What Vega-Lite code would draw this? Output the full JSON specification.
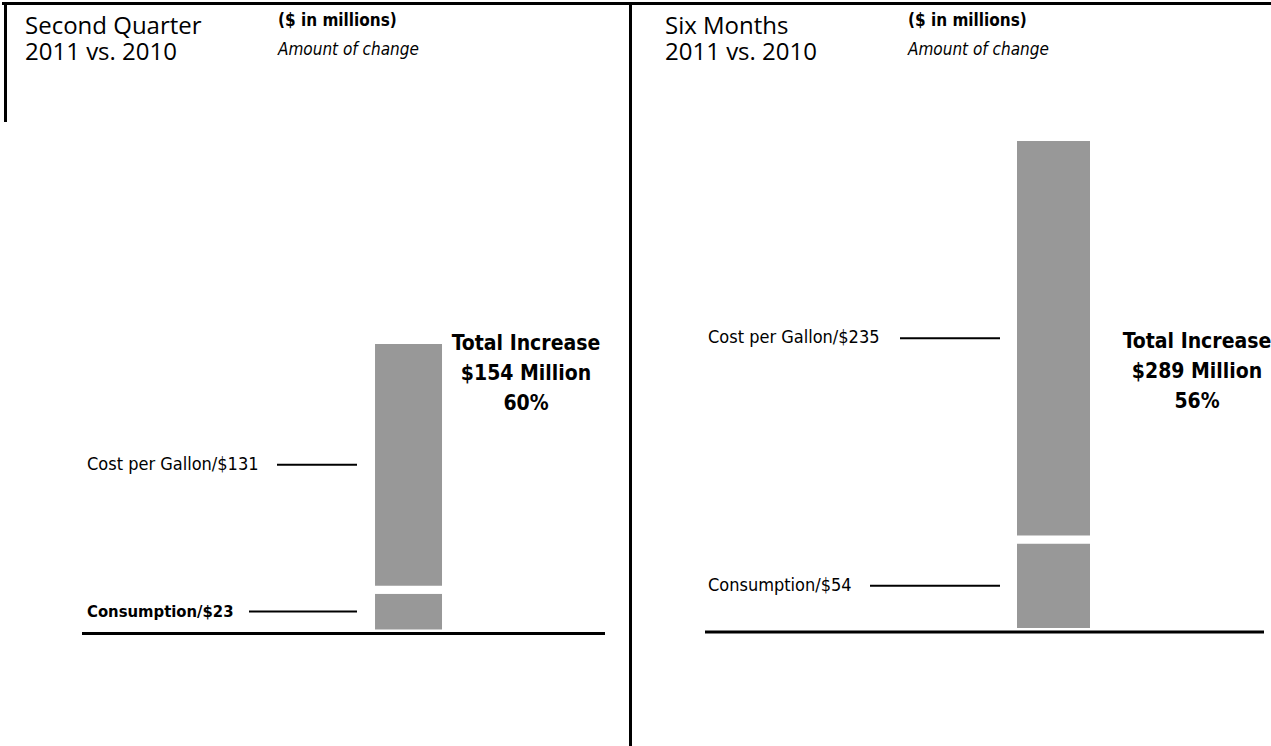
{
  "$schema": "https://vega.github.io/schema/vega-lite/v6.json",
  "padding": 0,
  "spacing": 0,
  "bounds": "flush",
  "background": "white",
  "config": {"view": {"stroke": null}},
  "datasets": {
    "bars": [
      {"period": "Second Quarter", "component": "Consumption", "value": 23, "label": "Consumption/$23"},
      {"period": "Second Quarter", "component": "Cost per Gallon", "value": 131, "label": "Cost per Gallon/$131"},
      {"period": "Six Months", "component": "Consumption", "value": 54, "label": "Consumption/$54"},
      {"period": "Six Months", "component": "Cost per Gallon", "value": 235, "label": "Cost per Gallon/$235"}
    ],
    "headers": [
      {"period": "Second Quarter", "title1": "Second Quarter", "title2": "2011 vs. 2010", "unit": "($ in millions)", "note": "Amount of change", "total": "Total Increase\n$154 Million\n60%"},
      {"period": "Six Months", "title1": "Six Months", "title2": "2011 vs. 2010", "unit": "($ in millions)", "note": "Amount of change", "total": "Total Increase\n$289 Million\n56%"}
    ],
    "one": [{"k": 1}]
  },
  "hconcat": [
    {
      "width": 628,
      "height": 746,
      "layer": [
        {
          "data": {"name": "bars"},
          "transform": [{"filter": "datum.period === 'Second Quarter'"}],
          "mark": {"type": "bar", "color": "#989898", "stroke": "white", "strokeWidth": 8},
          "encoding": {
            "x": {"field": "period", "type": "nominal", "axis": null, "scale": {"paddingInner": 0.7288, "paddingOuter": 1, "align": 0.6673}},
            "y": {"field": "value", "type": "quantitative", "stack": "zero", "axis": null, "scale": {"domain": [-60.08, 331.35], "nice": false, "zero": false}},
            "detail": {"field": "component", "type": "nominal"},
            "order": {"field": "component", "sort": "ascending"}
          }
        },
        {
          "data": {"name": "bars"},
          "transform": [
            {"filter": "datum.period === 'Second Quarter'"},
            {"stack": "value", "groupby": ["period"], "sort": [{"field": "component", "order": "ascending"}], "as": ["v0", "v1"]},
            {"fold": ["v0", "v1"], "as": ["edge", "pos"]},
            {"aggregate": [{"op": "mean", "field": "pos", "as": "mid"}], "groupby": ["period", "component", "label"]}
          ],
          "layer": [
            {
              "transform": [{"filter": "datum.component === 'Cost per Gallon'"}],
              "layer": [
                {
                  "mark": {"type": "text", "align": "left", "baseline": "middle", "font": "DejaVu Sans Condensed", "fontSize": 18, "color": "black"},
                  "encoding": {
                    "x": {"value": 85},
                    "y": {"field": "mid", "type": "quantitative", "axis": null},
                    "text": {"field": "label"}
                  }
                },
                {
                  "mark": {"type": "rule", "color": "black", "strokeWidth": 2},
                  "encoding": {
                    "x": {"value": 275},
                    "x2": {"value": 355},
                    "y": {"field": "mid", "type": "quantitative", "axis": null}
                  }
                }
              ]
            },
            {
              "transform": [{"filter": "datum.component === 'Consumption'"}],
              "layer": [
                {
                  "mark": {"type": "text", "align": "left", "baseline": "middle", "font": "DejaVu Sans Condensed", "fontSize": 16.5, "fontWeight": "bold", "color": "black"},
                  "encoding": {
                    "x": {"value": 85},
                    "y": {"field": "mid", "type": "quantitative", "axis": null},
                    "text": {"field": "label"}
                  }
                },
                {
                  "mark": {"type": "rule", "color": "black", "strokeWidth": 2},
                  "encoding": {
                    "x": {"value": 247},
                    "x2": {"value": 355},
                    "y": {"field": "mid", "type": "quantitative", "axis": null}
                  }
                }
              ]
            }
          ]
        },
        {
          "data": {"name": "one"},
          "mark": {"type": "rule", "color": "black", "strokeWidth": 3},
          "encoding": {
            "x": {"value": 80},
            "x2": {"value": 603},
            "y": {"datum": 0, "type": "quantitative", "axis": null}
          }
        },
        {
          "data": {"name": "one"},
          "mark": {"type": "rule", "color": "black", "strokeWidth": 3},
          "encoding": {"x": {"value": 0}, "x2": {"value": 628}, "y": {"value": 1.5}}
        },
        {
          "data": {"name": "one"},
          "mark": {"type": "rule", "color": "black", "strokeWidth": 3},
          "encoding": {"x": {"value": 3.5}, "y": {"value": 0}, "y2": {"value": 120}}
        },
        {
          "data": {"name": "headers"},
          "transform": [{"filter": "datum.period === 'Second Quarter'"}],
          "layer": [
            {
              "mark": {"type": "text", "align": "left", "baseline": "alphabetic", "font": "Open Sans", "fontSize": 24, "color": "black"},
              "encoding": {"x": {"value": 23}, "y": {"value": 32}, "text": {"field": "title1"}}
            },
            {
              "mark": {"type": "text", "align": "left", "baseline": "alphabetic", "font": "Open Sans", "fontSize": 24, "color": "black"},
              "encoding": {"x": {"value": 23}, "y": {"value": 58}, "text": {"field": "title2"}}
            },
            {
              "mark": {"type": "text", "align": "left", "baseline": "alphabetic", "font": "DejaVu Sans Condensed", "fontSize": 17, "fontWeight": "bold", "color": "black"},
              "encoding": {"x": {"value": 276}, "y": {"value": 24}, "text": {"field": "unit"}}
            },
            {
              "mark": {"type": "text", "align": "left", "baseline": "alphabetic", "font": "DejaVu Sans Condensed", "fontSize": 17, "fontStyle": "italic", "color": "black"},
              "encoding": {"x": {"value": 276}, "y": {"value": 53}, "text": {"field": "note"}}
            },
            {
              "mark": {"type": "text", "align": "center", "baseline": "alphabetic", "font": "DejaVu Sans Condensed", "fontSize": 21, "fontWeight": "bold", "lineHeight": 30, "lineBreak": "\n", "color": "black"},
              "encoding": {"x": {"value": 524}, "y": {"value": 348}, "text": {"field": "total"}}
            }
          ]
        }
      ]
    },
    {
      "width": 643,
      "height": 746,
      "layer": [
        {
          "data": {"name": "bars"},
          "transform": [{"filter": "datum.period === 'Six Months'"}],
          "mark": {"type": "bar", "color": "#989898", "stroke": "white", "strokeWidth": 8},
          "encoding": {
            "x": {"field": "period", "type": "nominal", "axis": null, "scale": {"paddingInner": 0.7117, "paddingOuter": 1, "align": 0.6815}},
            "y": {"field": "value", "type": "quantitative", "stack": "zero", "axis": null, "scale": {"domain": [-67.73, 367.8], "nice": false, "zero": false}},
            "detail": {"field": "component", "type": "nominal"},
            "order": {"field": "component", "sort": "ascending"}
          }
        },
        {
          "data": {"name": "bars"},
          "transform": [
            {"filter": "datum.period === 'Six Months'"},
            {"stack": "value", "groupby": ["period"], "sort": [{"field": "component", "order": "ascending"}], "as": ["v0", "v1"]},
            {"fold": ["v0", "v1"], "as": ["edge", "pos"]},
            {"aggregate": [{"op": "mean", "field": "pos", "as": "mid"}], "groupby": ["period", "component", "label"]}
          ],
          "layer": [
            {
              "mark": {"type": "text", "align": "left", "baseline": "middle", "font": "DejaVu Sans Condensed", "fontSize": 18, "color": "black"},
              "encoding": {
                "x": {"value": 78},
                "y": {"field": "mid", "type": "quantitative", "axis": null},
                "text": {"field": "label"}
              }
            },
            {
              "transform": [{"filter": "datum.component === 'Cost per Gallon'"}],
              "mark": {"type": "rule", "color": "black", "strokeWidth": 2},
              "encoding": {
                "x": {"value": 270},
                "x2": {"value": 370},
                "y": {"field": "mid", "type": "quantitative", "axis": null}
              }
            },
            {
              "transform": [{"filter": "datum.component === 'Consumption'"}],
              "mark": {"type": "rule", "color": "black", "strokeWidth": 2},
              "encoding": {
                "x": {"value": 240},
                "x2": {"value": 370},
                "y": {"field": "mid", "type": "quantitative", "axis": null}
              }
            }
          ]
        },
        {
          "data": {"name": "one"},
          "mark": {"type": "rule", "color": "black", "strokeWidth": 3},
          "encoding": {
            "x": {"value": 75},
            "x2": {"value": 634},
            "y": {"datum": 0, "type": "quantitative", "axis": null}
          }
        },
        {
          "data": {"name": "one"},
          "mark": {"type": "rule", "color": "black", "strokeWidth": 3},
          "encoding": {"x": {"value": 0}, "x2": {"value": 643}, "y": {"value": 1.5}}
        },
        {
          "data": {"name": "one"},
          "mark": {"type": "rule", "color": "black", "strokeWidth": 3},
          "encoding": {"x": {"value": 0.5}, "y": {"value": 0}, "y2": {"value": 746}}
        },
        {
          "data": {"name": "headers"},
          "transform": [{"filter": "datum.period === 'Six Months'"}],
          "layer": [
            {
              "mark": {"type": "text", "align": "left", "baseline": "alphabetic", "font": "Open Sans", "fontSize": 24, "color": "black"},
              "encoding": {"x": {"value": 35}, "y": {"value": 32}, "text": {"field": "title1"}}
            },
            {
              "mark": {"type": "text", "align": "left", "baseline": "alphabetic", "font": "Open Sans", "fontSize": 24, "color": "black"},
              "encoding": {"x": {"value": 35}, "y": {"value": 58}, "text": {"field": "title2"}}
            },
            {
              "mark": {"type": "text", "align": "left", "baseline": "alphabetic", "font": "DejaVu Sans Condensed", "fontSize": 17, "fontWeight": "bold", "color": "black"},
              "encoding": {"x": {"value": 278}, "y": {"value": 24}, "text": {"field": "unit"}}
            },
            {
              "mark": {"type": "text", "align": "left", "baseline": "alphabetic", "font": "DejaVu Sans Condensed", "fontSize": 17, "fontStyle": "italic", "color": "black"},
              "encoding": {"x": {"value": 278}, "y": {"value": 53}, "text": {"field": "note"}}
            },
            {
              "mark": {"type": "text", "align": "center", "baseline": "alphabetic", "font": "DejaVu Sans Condensed", "fontSize": 21, "fontWeight": "bold", "lineHeight": 30, "lineBreak": "\n", "color": "black"},
              "encoding": {"x": {"value": 567}, "y": {"value": 346}, "text": {"field": "total"}}
            }
          ]
        }
      ]
    }
  ]
}
